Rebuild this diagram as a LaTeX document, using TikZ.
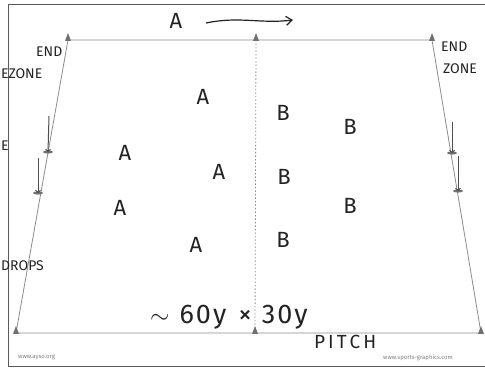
\documentclass[tikz,border=0pt]{standalone}
\usepackage{fontspec}
\setmainfont{Fira Sans}
\usetikzlibrary{arrows.meta}
\definecolor{lineg}{RGB}{140,140,140}
\definecolor{ink}{RGB}{35,35,35}
\definecolor{frameg}{RGB}{90,90,90}
\tikzset{
  hand/.style={font=\fontsize{22}{22}\selectfont, text=ink, inner sep=0pt},
  handsm/.style={font=\fontsize{14}{14}\selectfont, text=ink, inner sep=0pt},
  handmd/.style={font=\fontsize{27}{27}\selectfont, text=ink, inner sep=0pt},
  web/.style={font=\fontsize{6}{6}\selectfont, text=gray, inner sep=0pt},
  fieldline/.style={draw=lineg, line width=0.8pt},
  cone/.style={fill=lineg!80!black, draw=none},
  drop/.style={draw=ink!80, line width=1pt, -{Straight Barb[length=2pt,width=5pt]}},
}
\begin{document}
\begin{tikzpicture}[x=1pt,y=-1pt]
\useasboundingbox (0,0) rectangle (485,371);
\clip (0,0) rectangle (485,371);
\fill[white] (0,0) rectangle (485,371);
% frame
\draw[frameg, line width=1pt] (8,5) rectangle (492,367);
% field corners
\coordinate (tl) at (68,40);
\coordinate (tr) at (432,40);
\coordinate (bl) at (16,333);
\coordinate (br) at (481,333);
\coordinate (tm) at (256,40);
\coordinate (bm) at (255,333);
\draw[fieldline] (tl) -- (tr) -- (br) -- (bl) -- cycle;
\draw[lineg, line width=0.8pt, dash pattern=on 1.5pt off 2pt] (tm) -- (bm);
% corner cones
\foreach \p in {tl,tr,bl,br,tm,bm}{
  \fill[cone] ([xshift=-3pt,yshift=-1pt]\p) -- ([yshift=7pt]\p) -- ([xshift=3pt,yshift=-1pt]\p) -- cycle;
}
% sideline cones
\coordinate (l1) at (48,152);
\coordinate (l2) at (38,193);
\coordinate (r1) at (452,153);
\coordinate (r2) at (458,191);
\foreach \p in {l1,l2,r1,r2}{
  \fill[cone] (\p) ellipse (5pt and 1.6pt);
}
% drop arrows
\coordinate (l1s) at (49,116);
\coordinate (l2s) at (38,158);
\coordinate (r1s) at (452,122);
\coordinate (r2s) at (458,156);
\draw[drop] (l1s) -- (l1);
\draw[drop] (l2s) -- (l2);
\draw[drop] (r1s) -- (r1);
\draw[drop] (r2s) -- (r2);
% top direction
\node[hand] (atop) at (176,21) {A};
\coordinate (as) at (206,23);
\coordinate (ae) at (293,20);
\draw[ink, line width=1.2pt, -{Straight Barb[length=6pt,width=9pt]}] (as) .. controls (240,16) and (260,24) .. (ae);
% team A
\node[hand] (a1) at (203,97) {A};
\node[hand] (a2) at (125,153) {A};
\node[hand] (a3) at (219,172) {A};
\node[hand] (a4) at (120,208) {A};
\node[hand] (a5) at (196,245) {A};
% team B
\node[hand] (b1) at (283,113) {B};
\node[hand] (b2) at (350,127) {B};
\node[hand] (b3) at (284,177) {B};
\node[hand] (b4) at (350,206) {B};
\node[hand] (b5) at (283,240) {B};
% labels
\node[handsm, anchor=west] (ez1) at (36,52) {END};
\node[handsm, anchor=west] (ez2) at (1,74) {EZONE};
\node[handsm, anchor=west] (ez3) at (441,47) {END};
\node[handsm, anchor=west] (ez4) at (443,69) {ZONE};
\node[handsm, anchor=west] (e5) at (1,146) {E};
\node[handsm, anchor=west] (drops) at (1,266) {DROPS};
\node[handmd, anchor=west] (size) at (150,317) {$\sim$\hspace{10pt}6\hspace{2pt}0\hspace{2pt}y\hspace{12pt}×\hspace{10pt}3\hspace{2pt}0\hspace{2pt}y};
\node[handsm, font=\fontsize{19}{19}\selectfont, anchor=west] (pitch) at (314,342) {P\hspace{3pt}I\hspace{3pt}T\hspace{3pt}C\hspace{3pt}H};
\node[web, anchor=west] (w1) at (18,357) {www.ayso.org};
\node[web, anchor=west] (w2) at (383,358) {www.sports-graphics.com};
\end{tikzpicture}
\end{document}
